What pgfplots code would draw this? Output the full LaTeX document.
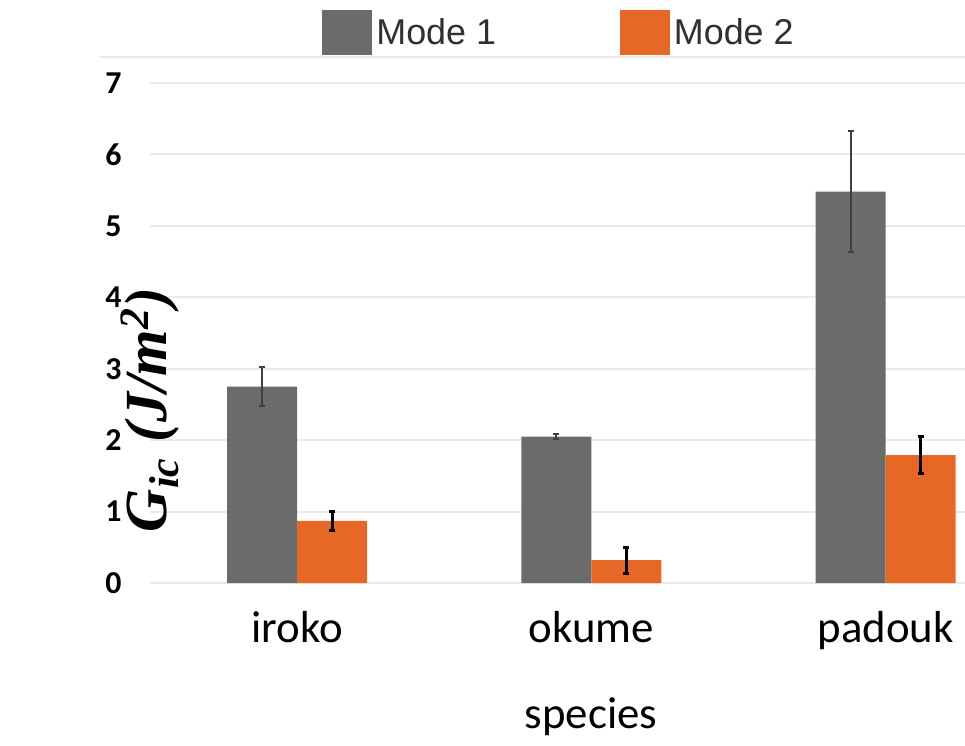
\documentclass[border=0pt]{standalone}
\usepackage[no-math]{fontspec}
\setmainfont{Carlito}
\newfontfamily\legfont{Liberation Sans}
\newfontfamily\serfont{Liberation Serif}
\usepackage{pgfplots}
\pgfplotsset{compat=1.18}
\definecolor{mgray}{HTML}{6B6B6B}
\definecolor{morange}{HTML}{E56826}
\definecolor{gridc}{HTML}{EAEAEA}
\definecolor{errgray}{HTML}{404040}
\definecolor{legtext}{HTML}{303030}
\begin{document}
\begin{tikzpicture}
\path[use as bounding box] (-75bp,-81.5bp) rectangle (407.5bp,291.5bp);
\begin{axis}[
 name=ax, at={(0,0)}, anchor=south west,
 scale only axis, width=407.5bp, height=250bp,
 xmin=-0.5, xmax=2.27, ymin=0, ymax=7,
 xtick={0,1,2}, xticklabels={iroko,okume,padouk},
 ytick={0,1,2,3,4,5,6,7},
 axis line style={draw opacity=0},
 tick style={draw opacity=0},
 ymajorgrids, grid style={color=gridc, line width=1bp},
 /pgf/number format/assume math mode=true,
 yticklabel style={font=\bfseries\fontsize{16}{18}\selectfont, anchor=east, xshift=-14bp, inner sep=0pt},
 xticklabel style={font=\fontsize{22.5}{26}\selectfont, anchor=base, yshift=-29.5bp, inner sep=0pt},
 xlabel={species},
 xlabel style={font=\fontsize{22.5}{26}\selectfont, at={(axis description cs:0.541,0)}, anchor=base, yshift=-72.5bp, inner sep=0pt},
 ylabel={G\textsubscript{ic} (J/m\textsuperscript{2})},
 ylabel style={font=\serfont\bfseries\itshape\fontsize{30}{34}\selectfont, at={(axis description cs:0,0.556)}, anchor=center, xshift=-52.5bp, inner sep=0pt},
 legend columns=2,
 legend style={draw=none, fill=none, at={(axis description cs:0,1)}, anchor=west, xshift=86bp, yshift=25.25bp,
   inner sep=0pt, font=\legfont\fontsize{18}{20}\selectfont, text=legtext,
   /tikz/every even column/.append style={column sep=60bp}},
]
\addplot[ybar, bar width=35bp, bar shift=-17.5bp, fill=mgray, draw=none,
  legend image code/.code={\fill[mgray] (0bp,-11.25bp) rectangle (25bp,11.25bp);}]
  coordinates {(0,2.75) (1,2.05) (2,5.48)};
\addlegendentry{Mode 1}
\addplot[ybar, bar width=35bp, bar shift=17.5bp, fill=morange, draw=none,
  legend image code/.code={\fill[morange] (0bp,-11.25bp) rectangle (25bp,11.25bp);}]
  coordinates {(0,0.87) (1,0.32) (2,1.79)};
\addlegendentry{Mode 2}
% error bars (low/high ends), drawn at the bar centres
\addplot[sharp plot, forget plot, unbounded coords=jump, color=errgray, line width=1bp,
  mark=-, mark size=1.5bp, mark options={solid, line width=1bp}]
  coordinates {(-0.119,2.475) (-0.119,3.025) (-0.119,nan) (0.881,2.01) (0.881,2.09) (0.881,nan) (1.881,4.63) (1.881,6.33)};
\addplot[sharp plot, forget plot, unbounded coords=jump, color=black, line width=1.5bp,
  mark=-, mark size=1.5bp, mark options={solid, line width=1.5bp}]
  coordinates {(0.119,0.735) (0.119,1.005) (0.119,nan) (1.119,0.14) (1.119,0.50) (1.119,nan) (2.119,1.53) (2.119,2.05)};
\end{axis}
\draw[gridc, line width=1bp] ([xshift=-25bp,yshift=13bp]ax.north west) -- ([yshift=13bp]ax.north east);
\end{tikzpicture}
\end{document}
